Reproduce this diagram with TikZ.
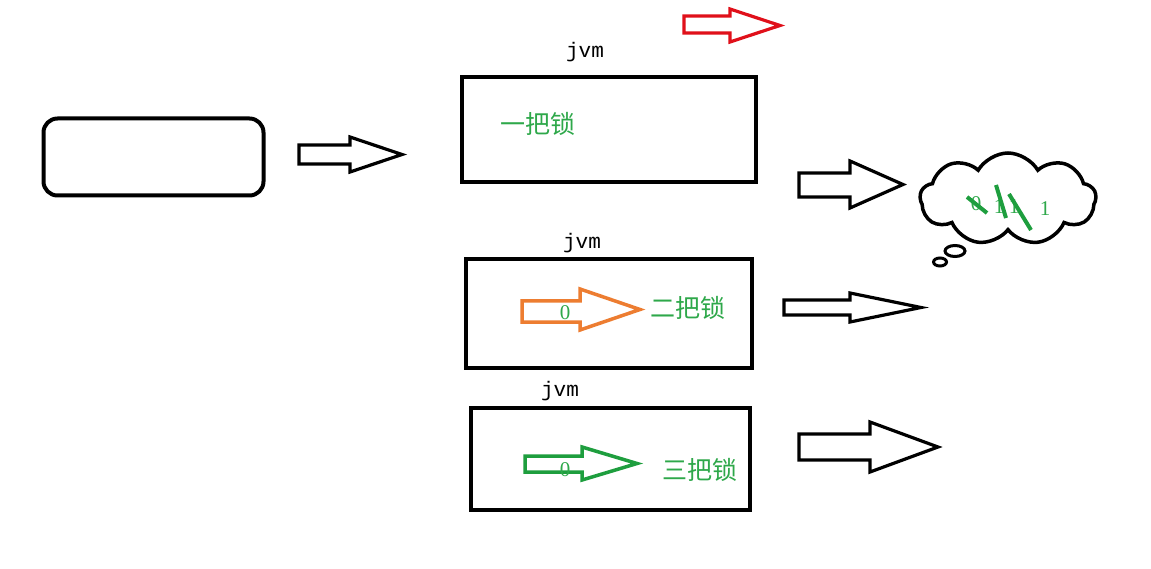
\documentclass[tikz,border=0pt]{standalone}
\usepackage{fontspec}
\setmainfont{Liberation Serif}
\newfontfamily\cjk{Noto Sans CJK SC}
\newfontfamily\jvmfont{Liberation Mono}
\usetikzlibrary{shapes.symbols,shapes.geometric}
\definecolor{gtext}{HTML}{2EA84A}
\definecolor{garrow}{HTML}{1E9E3E}
\definecolor{oarrow}{HTML}{ED7D31}
\definecolor{rarrow}{HTML}{E0101A}
\tikzset{
  jvmbox/.style={draw=black, line width=4pt, fill=white},
  hollowarrow/.style={draw=black, line width=3.2pt, line join=miter, fill=white},
  jvmlabel/.style={font=\jvmfont\fontsize{21}{24}\selectfont},
  locklabel/.style={font=\cjk\fontsize{25}{28}\selectfont, text=gtext},
  zerolabel/.style={font=\fontsize{21}{24}\selectfont, text=gtext},
}
% \fatarrow{style}{x0}{xm}{x1}{shaft top}{shaft bottom}{head top}{head bottom}
\newcommand\fatarrow[8]{%
  \draw[#1] (#2,#5) -- (#3,#5) -- (#3,#7) -- (#4,{(#7+#8)/2}) -- (#3,#8) -- (#3,#6) -- (#2,#6) -- cycle;}
\begin{document}
\begin{tikzpicture}[x=1pt,y=-1pt]
\useasboundingbox (0,0) rectangle (1151,569);
\fill[white] (0,0) rectangle (1151,569);

% left rounded box
\node[draw=black, line width=4pt, rounded corners=14pt, minimum width=220pt, minimum height=77pt, inner sep=0pt] (src) at (153.5,157) {};

% red arrow at top
\fatarrow{draw=rarrow, line width=3.2pt, fill=white}{684}{730}{780}{16}{33}{9}{42}

% arrow from source
\fatarrow{hollowarrow}{299}{350}{402}{145}{164}{137}{172}

% JVM boxes
\node[jvmbox, minimum width=294pt, minimum height=105pt, inner sep=0pt] (jvm1) at (608.5,130) {};
\node[jvmlabel] (jl1) at (585,52) {jvm};
\node[locklabel] (lock1) at (538,124) {一把锁};

\node[jvmbox, minimum width=286pt, minimum height=108pt, inner sep=0pt] (jvm2) at (608.5,313.5) {};
\node[jvmlabel] (jl2) at (582,243) {jvm};

\node[jvmbox, minimum width=279pt, minimum height=102pt, inner sep=0pt] (jvm3) at (610,458.5) {};
\node[jvmlabel] (jl3) at (560,391) {jvm};

% orange arrow in box 2
\fatarrow{draw=oarrow, line width=3.5pt, fill=white}{522}{580}{640}{301}{322}{289}{330}
\node[zerolabel] (z2) at (565,313) {0};
\node[locklabel] (lock2) at (688,308) {二把锁};

% green arrow in box 3
\fatarrow{draw=garrow, line width=3.5pt, fill=white}{525}{582}{637}{456}{472}{447}{480}
\node[zerolabel] (z3) at (565,470) {0};
\node[locklabel] (lock3) at (700,470) {三把锁};

% right arrows
\fatarrow{hollowarrow}{799}{850}{903}{173}{197}{161}{208}
\fatarrow{hollowarrow}{784}{850}{921}{300}{315}{293}{322}
\fatarrow{hollowarrow}{799}{870}{938}{434}{460}{422}{472}

% cloud
\node[cloud, cloud puffs=9, cloud puff arc=120, aspect=2, draw=black, line width=3.5pt, minimum width=176pt, minimum height=92pt, inner sep=0pt] (cloud) at (1008,199) {};
\node[draw=black, line width=3pt, ellipse, minimum width=20pt, minimum height=11pt, inner sep=0pt] (b1) at (955,251) {};
\node[draw=black, line width=3pt, ellipse, minimum width=13pt, minimum height=8pt, inner sep=0pt] (b2) at (940,262) {};

\node[zerolabel] (c0) at (976,204) {0};
\node[zerolabel] (c1) at (999,207) {1};
\node[zerolabel] (c2) at (1014,207) {1};
\node[zerolabel] (c3) at (1045,209) {1};
\draw[garrow, line width=4pt] (967,197) -- (987,213);
\draw[garrow, line width=4pt] (996,185) -- (1006,218);
\draw[garrow, line width=4pt] (1009,194) -- (1031,230);
\end{tikzpicture}
\end{document}
